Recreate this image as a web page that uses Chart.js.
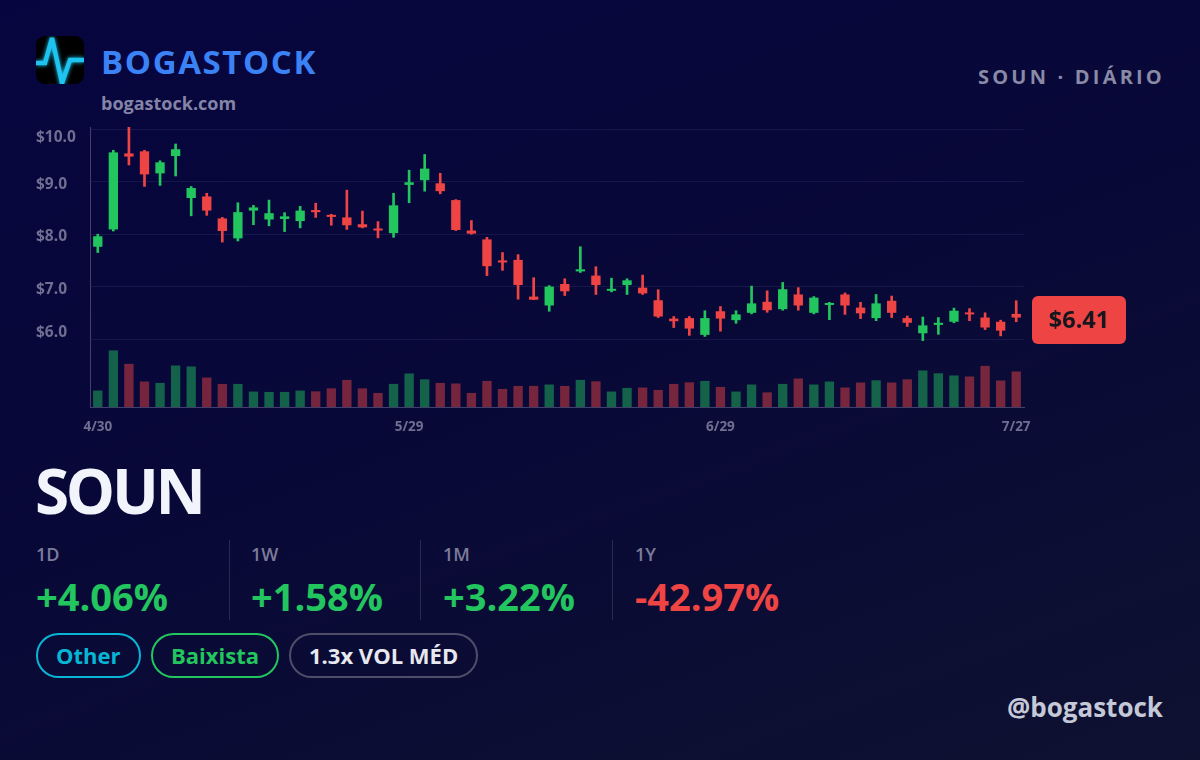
<!DOCTYPE html>
<html>
<head>
<meta charset="utf-8">
<script src="https://cdn.jsdelivr.net/npm/chart.js@4.4.1/dist/chart.umd.min.js"></script>
<style>
  html, body { margin: 0; padding: 0; }
  body {
    width: 1200px; height: 760px; overflow: hidden; position: relative;
    background: linear-gradient(160deg, #06053f 0%, #080838 45%, #0e1130 100%);
    font-family: "Open Sans", "Noto Sans", sans-serif;
  }
  .abs { position: absolute; white-space: nowrap; }
  #logo { left: 36px; top: 36px; width: 48px; height: 48px; border-radius: 9px; background: #000; overflow: hidden; }
  #brand { left: 101px; top: 39px; font-size: 33px; font-weight: 700; color: #3b82f6; letter-spacing: 1.6px; line-height: 46px; }
  #site { left: 101px; top: 91px; font-size: 18px; font-weight: 700; color: #8484a6; line-height: 24px; }
  #tf { right: 35px; top: 62px; font-size: 20px; font-weight: 700; color: #8a8aa6; letter-spacing: 3.2px; line-height: 30px; }
  #chartBox { left: 0; top: 117px; width: 1200px; height: 320px; }
  #ticker { left: 35px; top: 448px; font-size: 62px; font-weight: 700; color: #f1f4fa; line-height: 84px; letter-spacing: -3.3px; }
  .stat { top: 541px; height: 84px; }
  .stat .lbl { font-size: 18px; font-weight: 600; color: #7c7c9a; line-height: 27px; }
  .stat .val { font-size: 38px; font-weight: 700; line-height: 56px; }
  .div { top: 540px; width: 1px; height: 80px; background: #2a2a4c; }
  .pill { top: 633px; height: 41px; border-radius: 23px; border: 2px solid; padding: 0 18px; font-size: 22px; font-weight: 700; line-height: 41px; text-align: center; }
  #handle { right: 37px; top: 689px; font-size: 26px; font-weight: 700; color: #c5c8d6; line-height: 36px; }
</style>
</head>
<body>
<div id="logo" class="abs">
  <svg width="48" height="48" viewBox="0 0 48 48">
    <polyline points="0,27 9,27 16,2 26,47 34,24 48,24" fill="none" stroke="#1fc3f0" stroke-width="4.5" stroke-linejoin="miter" stroke-linecap="butt" style="filter: drop-shadow(0 0 2px #1fc3f0);"/>
  </svg>
</div>
<div id="brand" class="abs">BOGASTOCK</div>
<div id="site" class="abs">bogastock.com</div>
<div id="tf" class="abs">SOUN · DIÁRIO</div>
<div id="chartBox" class="abs"><canvas id="c" width="1200" height="320"></canvas></div>
<div id="ticker" class="abs">SOUN</div>

<div class="abs stat" style="left:36px"><div class="lbl">1D</div><div class="val" style="color:#22c55e">+4.06%</div></div>
<div class="abs div" style="left:229px"></div>
<div class="abs stat" style="left:251px"><div class="lbl">1W</div><div class="val" style="color:#22c55e">+1.58%</div></div>
<div class="abs div" style="left:420px"></div>
<div class="abs stat" style="left:443px"><div class="lbl">1M</div><div class="val" style="color:#22c55e">+3.22%</div></div>
<div class="abs div" style="left:612px"></div>
<div class="abs stat" style="left:635px"><div class="lbl">1Y</div><div class="val" style="color:#ef4444">-42.97%</div></div>

<div class="abs pill" style="left:36px; border-color:#06b6d4; color:#06b6d4;">Other</div>
<div class="abs pill" style="left:151px; border-color:#22c55e; color:#22c55e;">Baixista</div>
<div class="abs pill" style="left:289px; border-color:#4e4e6a; color:#e8e8f0;">1.3x VOL MÉD</div>
<div id="handle" class="abs">@bogastock</div>

<script>
// ---- data ----
const xLabels = ['4/30','','','','','','','','','','','','','','','','','','','',
                 '5/29','','','','','','','','','','','','','','','','','','','',
                 '6/29','','','','','','','','','','','','','','','','','','','7/27'];
const opens  = [7.76,8.09,9.54,9.58,9.16,9.49,8.69,8.72,8.30,7.92,8.45,8.28,8.29,8.25,8.46,8.35,8.32,8.19,8.09,8.02,
                8.94,9.03,8.97,8.65,8.07,7.90,7.50,7.51,6.81,6.64,7.05,7.29,7.21,6.92,7.03,6.98,6.74,6.39,6.40,6.08,
                6.53,6.36,6.50,6.71,6.57,6.85,6.50,6.65,6.85,6.60,6.40,6.73,6.40,6.11,6.27,6.33,6.50,6.41,6.33,6.48];
const highs  = [8.00,9.60,10.05,9.60,9.40,9.72,8.91,8.78,8.32,8.60,8.55,8.65,8.41,8.53,8.59,8.38,8.84,8.44,8.24,8.78,
                9.22,9.52,9.16,8.66,8.26,7.94,7.65,7.61,7.17,7.02,7.15,7.76,7.38,7.16,7.15,7.22,6.94,6.43,6.43,6.54,
                6.62,6.54,7.01,6.92,7.08,6.98,6.81,6.70,6.88,6.70,6.85,6.82,6.44,6.42,6.41,6.59,6.58,6.50,6.36,6.73];
const lows   = [7.65,8.06,9.32,8.91,8.93,9.11,8.35,8.36,7.85,7.87,8.18,8.16,8.05,8.12,8.32,8.17,8.09,8.12,7.93,7.94,
                8.60,8.82,8.77,8.07,8.00,7.21,7.31,6.76,6.75,6.53,6.83,7.27,6.85,6.90,6.85,6.85,6.41,6.22,6.07,6.05,
                6.15,6.30,6.48,6.51,6.55,6.55,6.48,6.37,6.47,6.39,6.35,6.41,6.24,5.97,6.09,6.31,6.35,6.18,6.06,6.33];
const closes = [7.96,9.56,9.48,9.14,9.37,9.62,8.88,8.45,8.06,8.42,8.51,8.40,8.34,8.45,8.42,8.33,8.17,8.13,8.07,8.55,
                8.99,9.25,8.82,8.08,8.01,7.39,7.46,7.03,6.75,7.00,6.91,7.33,7.03,6.94,7.12,6.87,6.43,6.34,6.20,6.40,
                6.39,6.47,6.68,6.55,6.95,6.64,6.79,6.68,6.64,6.49,6.68,6.50,6.31,6.26,6.31,6.54,6.47,6.22,6.16,6.41];
const volumes = [8.2,28.2,21.5,12.7,12.0,20.7,20.2,14.7,11.5,11.5,7.7,7.5,7.5,8.2,7.8,9.3,13.5,9.3,7.0,11.5,
                 16.7,13.8,12.0,11.7,7.0,13.0,9.0,10.5,10.5,11.2,10.5,13.5,12.8,7.7,9.5,9.7,8.5,11.5,12.3,13.0,
                 10.0,7.7,11.2,7.3,11.5,14.2,11.2,12.7,9.7,12.2,13.3,12.2,13.8,18.2,16.8,15.7,15.2,20.5,13.2,17.7];
const yTicks = [6, 7, 8, 9, 10];
const yTickLabels = ['$6.0', '$7.0', '$8.0', '$9.0', '$10.0'];
const lastPriceLabel = '$6.41';

// ---- styling ----
const UP = '#22c55e', DOWN = '#ef4444';
const isUp = opens.map((o, i) => closes[i] >= o);
const bodyColors = isUp.map(u => u ? UP : DOWN);
const volColors = isUp.map(u => u ? 'rgba(34,197,94,0.48)' : 'rgba(239,68,68,0.48)');

const overlay = {
  id: 'overlay',
  afterDraw(chart) {
    const ctx = chart.ctx;
    const y = chart.scales.y;
    const area = chart.chartArea;
    const priceBottom = y.getPixelForValue(6);
    ctx.save();
    ctx.font = '700 15.5px "Open Sans", sans-serif';
    ctx.fillStyle = '#6f6f92';
    ctx.textAlign = 'left';
    ctx.textBaseline = 'middle';
    yTicks.forEach((v, i) => {
      let py = y.getPixelForValue(v) + 2.5;
      py = Math.max(area.top + 11, Math.min(priceBottom - 6.5, py));
      ctx.fillText(yTickLabels[i], 36, py);
    });
    // last price tag
    const cy = y.getPixelForValue(closes[closes.length - 1]) + 2.5;
    const bx = 1032, bw = 94, bh = 48, by = cy - bh / 2, r = 6;
    ctx.fillStyle = '#ef4444';
    ctx.beginPath();
    ctx.moveTo(bx + r, by);
    ctx.arcTo(bx + bw, by, bx + bw, by + bh, r);
    ctx.arcTo(bx + bw, by + bh, bx, by + bh, r);
    ctx.arcTo(bx, by + bh, bx, by, r);
    ctx.arcTo(bx, by, bx + bw, by, r);
    ctx.closePath();
    ctx.fill();
    ctx.fillStyle = '#16161e';
    ctx.font = '700 23.5px "Open Sans", sans-serif';
    ctx.textAlign = 'center';
    ctx.fillText(lastPriceLabel, bx + bw / 2, cy + 1);
    ctx.restore();
  }
};

new Chart(document.getElementById('c'), {
  type: 'bar',
  data: {
    labels: xLabels,
    datasets: [
      { label: 'Wick', data: lows.map((l, i) => [l, highs[i]]), yAxisID: 'y', grouped: false,
        backgroundColor: bodyColors, barThickness: 2, order: 2 },
      { label: 'Body', data: opens.map((o, i) => [o, closes[i]]), yAxisID: 'y', grouped: false,
        backgroundColor: bodyColors, borderColor: bodyColors, borderWidth: 0, barPercentage: 0.6, categoryPercentage: 1,
        minBarLength: 2, order: 1 },
      { label: 'Volume', data: volumes, yAxisID: 'v', grouped: false,
        backgroundColor: volColors, barPercentage: 0.6, categoryPercentage: 1, order: 3 }
    ]
  },
  options: {
    responsive: false,
    animation: false,
    layout: { padding: { left: 90, right: 176, top: 10, bottom: 0 } },
    plugins: { legend: { display: false }, tooltip: { enabled: false } },
    scales: {
      x: {
        offset: true,
        grid: { display: false, drawTicks: false },
        border: { display: true, color: '#40406a', width: 1 },
        ticks: {
          autoSkip: false, maxRotation: 0, padding: 12,
          color: '#6f6f92', font: { family: '"Open Sans", sans-serif', size: 13.5, weight: '700' },
          callback: (v, i) => xLabels[i] || null
        },
        afterFit: s => { s.height = 30; }
      },
      y: {
        min: 4.704, max: 10.044,
        afterBuildTicks: s => { s.ticks = yTicks.map(v => ({ value: v })); },
        grid: { color: 'rgba(120,120,200,0.13)', drawTicks: false, lineWidth: 1 },
        border: { display: true, color: '#40406a', width: 1 },
        ticks: { display: false },
        afterFit: s => { s.width = 0; }
      },
      v: {
        min: 0, max: 139.5, display: false
      }
    }
  },
  plugins: [overlay]
});
</script>
</body>
</html>
